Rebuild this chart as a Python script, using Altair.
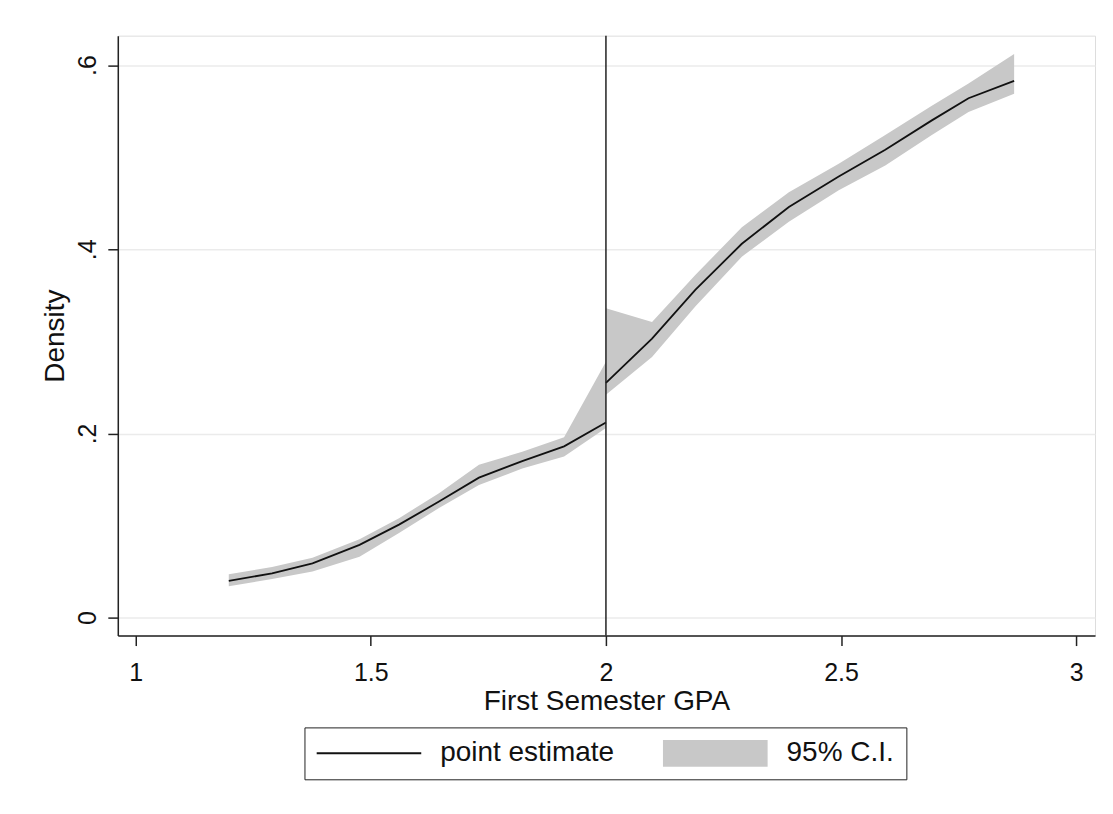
import altair as alt
import pandas as pd

# ---- data ----
left_gpa = [1.198, 1.29, 1.376, 1.476, 1.56, 1.645, 1.73, 1.822, 1.911, 2.0]
left_est = [0.040, 0.048, 0.059, 0.079, 0.101, 0.126, 0.152, 0.170, 0.186, 0.212]
left_hi = [0.047, 0.055, 0.065, 0.085, 0.108, 0.135, 0.166, 0.180, 0.196, 0.278]
left_lo = [0.034, 0.042, 0.050, 0.066, 0.092, 0.119, 0.144, 0.162, 0.175, 0.206]

right_gpa = [2.0, 2.098, 2.19, 2.289, 2.389, 2.495, 2.594, 2.693, 2.771, 2.868]
right_est = [0.255, 0.303, 0.356, 0.406, 0.446, 0.479, 0.508, 0.540, 0.564, 0.583]
right_hi = [0.336, 0.321, 0.372, 0.424, 0.462, 0.493, 0.524, 0.556, 0.580, 0.612]
right_lo = [0.242, 0.283, 0.338, 0.392, 0.430, 0.464, 0.491, 0.524, 0.549, 0.569]

cutoff = 2.0
x_ticks = [1, 1.5, 2, 2.5, 3]
y_ticks = [0, 0.2, 0.4, 0.6]
series_names = ["point estimate", "95% C.I."]
series_colors = ["#111111", "#c8c8c8"]
# legend glyphs: a thin bar (line sample) and a wide box (band sample)
series_shapes = ["M-1,-0.019H1V0.019H-1Z", "M-1,-0.257H1V0.257H-1Z"]

rows = []
for side, g, e, lo, hi in [("left", left_gpa, left_est, left_lo, left_hi),
                           ("right", right_gpa, right_est, right_lo, right_hi)]:
    for i in range(len(g)):
        rows.append({"side": side, "gpa": g[i], "est": e[i], "lo": lo[i], "hi": hi[i]})
df = pd.DataFrame(rows)
legend_df = pd.DataFrame({"series": series_names})

FONT = "Liberation Sans"
x_scale = alt.Scale(domain=[0.962, 3.04], nice=False, zero=False)
y_scale = alt.Scale(domain=[-0.0195, 0.632], nice=False, zero=False)

x_axis = alt.Axis(values=x_ticks, title="First Semester GPA", grid=False, format="~f",
                  labelFontSize=25, titleFontSize=28, tickSize=10,
                  labelPadding=15, titlePadding=2, labelFont=FONT, titleFont=FONT,
                  domainColor="#222222", tickColor="#222222", domainWidth=1.5, tickWidth=1.5,
                  labelColor="#111111", titleColor="#111111", titleFontWeight="normal")
y_axis = alt.Axis(values=y_ticks, title="Density",
                  labelExpr="datum.value == 0 ? '0' : replace(format(datum.value, '.1f'), '0.', '.')",
                  labelAngle=270, labelAlign="center", labelBaseline="bottom",
                  labelFontSize=25, titleFontSize=28, tickSize=10, labelPadding=7, titlePadding=6,
                  labelFont=FONT, titleFont=FONT, grid=True, gridColor="#ebebeb", gridWidth=1.5,
                  domainColor="#222222", tickColor="#222222", domainWidth=1.5, tickWidth=1.5,
                  labelColor="#111111", titleColor="#111111", titleFontWeight="normal")

legend = alt.Legend(
    title=None, orient="none", legendX=187, legendY=693, direction="horizontal", columns=2,
    symbolSize=11025, clipHeight=28, labelFontSize=28, labelFont=FONT, labelColor="#111111",
    labelOffset=19, columnPadding=48, padding=12, strokeColor="#222222", fillColor="white",
    labelLimit=400, symbolOpacity=1, symbolStrokeWidth=0,
)

base = alt.Chart(df)

band = base.mark_area(color="#c8c8c8", opacity=1).encode(
    x=alt.X("gpa:Q", scale=x_scale, axis=x_axis),
    y=alt.Y("lo:Q", scale=y_scale, axis=y_axis),
    y2="hi:Q",
    detail="side:N",
)

line = base.mark_line(color="#111111", strokeWidth=1.8).encode(
    x=alt.X("gpa:Q", scale=x_scale),
    y=alt.Y("est:Q", scale=y_scale),
    detail="side:N",
)

rule = alt.Chart(pd.DataFrame({"c": [cutoff]})).mark_rule(color="#222222", strokeWidth=1.5).encode(
    x=alt.X("c:Q", scale=x_scale)
)

legend_layer = alt.Chart(legend_df).mark_point(filled=True, opacity=0).encode(
    color=alt.Color("series:N", scale=alt.Scale(domain=series_names, range=series_colors),
                    legend=legend),
    shape=alt.Shape("series:N", scale=alt.Scale(domain=series_names, range=series_shapes),
                    legend=legend),
)

chart = alt.layer(band, line, rule, legend_layer).properties(
    width=979, height=601,
    autosize=alt.AutoSizeParams(type="none"),
    padding={"left": 110, "top": 27, "right": 10, "bottom": 160},
).configure_view(stroke=None).configure(background="white")

chart.save("out.html", embed_options={"renderer": "svg", "actions": False})
